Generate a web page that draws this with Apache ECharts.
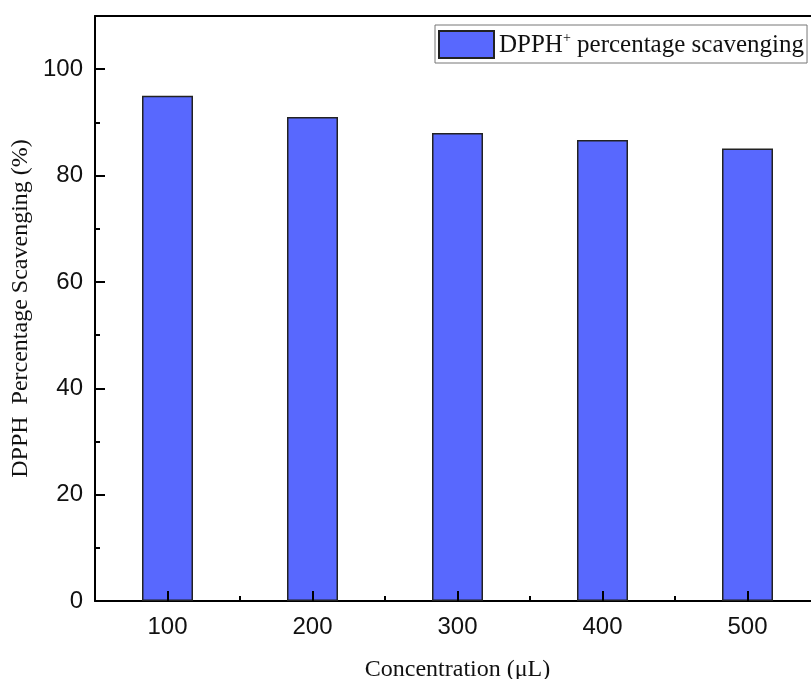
<!DOCTYPE html>
<html>
<head>
<meta charset="utf-8">
<script src="https://cdn.jsdelivr.net/npm/echarts@6/dist/echarts.min.js"></script>
<style>
html, body { margin: 0; padding: 0; background: #fff; }
#chart { width: 811px; height: 679px; }
</style>
</head>
<body>
<div id="chart"></div>
<script>
const categories = ['100', '200', '300', '400', '500'];
const scavenging = [95.0, 91.0, 88.0, 86.7, 85.1];
const seriesName = 'DPPH+ percentage scavenging';

const chart = echarts.init(document.getElementById('chart'));
const serif = '"Liberation Serif", "Times New Roman", serif';
const sans = '"Liberation Sans", Arial, sans-serif';
const black = () => ({ color: '#000', width: 2 });
// half-width bands so a tick can sit in the middle of each real category
const halfBands = categories.flatMap(c => ['~' + c, c]);

// bare axes that only carry ticks, drawn above the bars
const tickX = (data, len, every) => ({
    type: 'category',
    data: data,
    boundaryGap: true,
    position: 'bottom',
    z: 10,
    axisLine: { show: false },
    axisTick: { show: true, inside: true, length: len, interval: every, lineStyle: black() },
    axisLabel: { show: false }
});
const tickY = (step, len, off, inside) => ({
    type: 'value',
    min: 0,
    max: 110,
    interval: step,
    position: 'left',
    offset: off,
    z: 10,
    axisLine: { show: false },
    axisTick: { show: true, inside: inside, length: len, lineStyle: black() },
    axisLabel: { show: false },
    splitLine: { show: false }
});

chart.setOption({
    animation: false,
    grid: {
        left: 95,
        width: 725,
        top: 16,
        bottom: 78,
        outerBoundsMode: 'none'
    },
    legend: {
        left: 435,
        top: 25,
        padding: [5, 3, 4, 3],
        borderColor: '#777',
        borderWidth: 1,
        icon: 'rect',
        itemWidth: 55,
        itemHeight: 27,
        itemGap: 6,
        data: [seriesName],
        formatter: () => '{a|DPPH}{s|+}{a| percentage scavenging}',
        textStyle: {
            rich: {
                a: { fontFamily: serif, fontSize: 25, color: '#111', verticalAlign: 'bottom', lineHeight: 27 },
                s: { fontFamily: serif, fontSize: 14, color: '#111', verticalAlign: 'top', lineHeight: 27 }
            }
        }
    },
    xAxis: [{
        type: 'category',
        data: categories,
        boundaryGap: true,
        name: 'Concentration (\u03bcL)',
        nameLocation: 'middle',
        nameGap: 57,
        nameMoveOverlap: false,
        nameTextStyle: { fontFamily: serif, fontSize: 24, color: '#111' },
        axisLine: { show: true, lineStyle: black() },
        axisTick: { show: false },
        axisLabel: { fontFamily: sans, fontSize: 24, color: '#111', margin: 14 }
    },
    tickX(categories, 5, 0),
    tickX(halfBands, 10, (i) => i % 2 === 1),
    {
        type: 'category',
        data: categories,
        position: 'top',
        z: 10,
        axisLine: { show: true, lineStyle: black() },
        axisTick: { show: false },
        axisLabel: { show: false }
    }],
    yAxis: [{
        type: 'value',
        min: 0,
        max: 110,
        interval: 20,
        name: 'DPPH  Percentage Scavenging (%)',
        nameLocation: 'middle',
        nameGap: 62,
        nameMoveOverlap: false,
        nameTextStyle: { fontFamily: serif, fontSize: 24, color: '#111' },
        axisLine: { show: true, lineStyle: black() },
        axisTick: { show: false },
        axisLabel: { fontFamily: sans, fontSize: 24, color: '#111', margin: 12, showMaxLabel: false },
        splitLine: { show: false }
    },
    tickY(10, 5, 0, true),
    tickY(20, 10, -10, false)],
    series: [{
        name: seriesName,
        type: 'bar',
        data: scavenging,
        barWidth: 51,
        itemStyle: { color: '#5868fe', borderColor: '#222', borderWidth: 1.5 }
    }]
});
</script>
</body>
</html>
